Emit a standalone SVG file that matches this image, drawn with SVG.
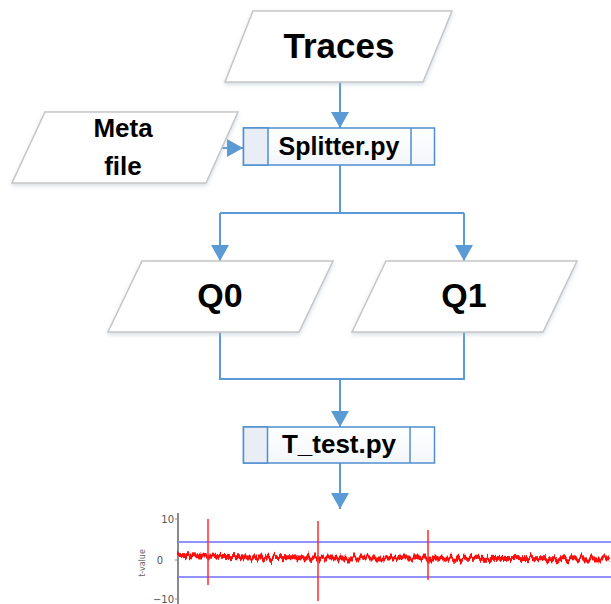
<svg xmlns="http://www.w3.org/2000/svg" width="611" height="604" viewBox="0 0 611 604">
<style>
.para{fill:#ffffff;stroke:#c6c6c6;stroke-width:1.5;filter:url(#shadow)}
.lbl{font-family:"Liberation Sans",Arial,sans-serif;font-weight:bold;fill:#000;text-anchor:middle}
.box{fill:url(#boxgrad);stroke:#4f8fcf;stroke-width:1.5}
.cell{fill:#e9eef6;stroke:#4f8fcf;stroke-width:1.5}
.div{stroke:#4f8fcf;stroke-width:1.5}
.conn{fill:none;stroke:#5b9bd5;stroke-width:2}
.tick{font-family:"DejaVu Sans",sans-serif;font-size:10px;fill:#555;text-anchor:end}
</style>
<defs>
<filter id="shadow" x="-10%" y="-10%" width="120%" height="130%">
<feDropShadow dx="0" dy="2" stdDeviation="2" flood-color="#9fb3c8" flood-opacity="0.45"/>
</filter>
<linearGradient id="boxgrad" x1="0" y1="0" x2="0" y2="1">
<stop offset="0" stop-color="#ffffff"/>
<stop offset="1" stop-color="#f3f6fa"/>
</linearGradient>
<marker id="arr" viewBox="0 0 16 18" refX="16" refY="9" markerWidth="16" markerHeight="18" markerUnits="userSpaceOnUse" orient="auto">
<path d="M0 0 L16 9 L0 18 Z" fill="#5b9bd5"/>
</marker>
<filter id="noisy" filterUnits="userSpaceOnUse" x="170" y="530" width="450" height="55">
<feTurbulence type="fractalNoise" baseFrequency="0.3 0.02" numOctaves="3" seed="7" result="n"/>
<feDisplacementMap in="SourceGraphic" in2="n" scale="13" xChannelSelector="A" yChannelSelector="G" result="d"/>
<feGaussianBlur in="d" stdDeviation="0.4"/>
</filter>
</defs>

<g id="connectors">
<path class="conn" d="M340 82 V128" marker-end="url(#arr)"/>
<path class="conn" d="M222 148 H243" marker-end="url(#arr)"/>
<path class="conn" d="M340 165 V213 M220 213 H464"/>
<path class="conn" d="M220 213 V261" marker-end="url(#arr)"/>
<path class="conn" d="M464 213 V261" marker-end="url(#arr)"/>
<path class="conn" d="M220 332 V379 H464 V332"/>
<path class="conn" d="M340 379 V427" marker-end="url(#arr)"/>
<path class="conn" d="M340 463 V509" marker-end="url(#arr)"/>
</g>

<g id="traces">
<polygon class="para" points="253,11 452,11 423,82 225,82"/>
<text class="lbl" x="339" y="58" font-size="35">Traces</text>
</g>

<g id="meta">
<polygon class="para" points="45,112 238,112 206,183 12,183"/>
<text class="lbl" x="123" y="137" font-size="26">Meta</text>
<text class="lbl" x="123" y="175" font-size="26">file</text>
</g>

<g id="splitter">
<rect class="box" x="243.5" y="128" width="191" height="37"/>
<rect class="cell" x="243.5" y="128" width="24.5" height="37"/>
<line class="div" x1="411" y1="128" x2="411" y2="165"/>
<text class="lbl" x="339" y="155" font-size="25">Splitter.py</text>
</g>

<g id="q0">
<polygon class="para" points="142,261 333,261 299,332 108,332"/>
<text class="lbl" x="220" y="307" font-size="34">Q0</text>
</g>

<g id="q1">
<polygon class="para" points="386,261 577,261 543,332 352,332"/>
<text class="lbl" x="464" y="307" font-size="34">Q1</text>
</g>

<g id="ttest">
<rect class="box" x="243.5" y="427" width="191" height="36"/>
<rect class="cell" x="243.5" y="427" width="24" height="36"/>
<line class="div" x1="410" y1="427" x2="410" y2="463"/>
<text class="lbl" x="339" y="453" font-size="26">T_test.py</text>
</g>

<g id="chart">
<line x1="178" y1="513" x2="178" y2="604" stroke="#8a8a8a" stroke-width="2"/>
<line x1="175" y1="519" x2="178" y2="519" stroke="#8a8a8a" stroke-width="1"/>
<line x1="175" y1="560" x2="178" y2="560" stroke="#8a8a8a" stroke-width="1"/>
<line x1="175" y1="599" x2="178" y2="599" stroke="#8a8a8a" stroke-width="1"/>
<text class="tick" x="174" y="523">10</text>
<text class="tick" x="163" y="564">0</text>
<text class="tick" x="174" y="603">−10</text>
<text font-family="DejaVu Sans,sans-serif" font-size="8" fill="#666" text-anchor="middle" transform="translate(145,563) rotate(-90)">t-value</text>
<line x1="178" y1="542" x2="611" y2="542" stroke="#7f7fff" stroke-width="2" opacity="0.85"/>
<line x1="178" y1="577" x2="611" y2="577" stroke="#7f7fff" stroke-width="2" opacity="0.85"/>
<g filter="url(#noisy)">
<path d="M178 553 L300 555.5 L420 555.5 L611 556.5 L611 561.5 L420 560.5 L300 560.5 L178 558 Z" fill="#ff1010"/>
</g>
<line x1="208" y1="519" x2="208" y2="585" stroke="#ff2a2a" stroke-width="1.5"/>
<line x1="318" y1="521" x2="318" y2="601" stroke="#ff2a2a" stroke-width="1.5"/>
<line x1="428" y1="530" x2="428" y2="580" stroke="#ff2a2a" stroke-width="1.5"/>
</g>
</svg>
